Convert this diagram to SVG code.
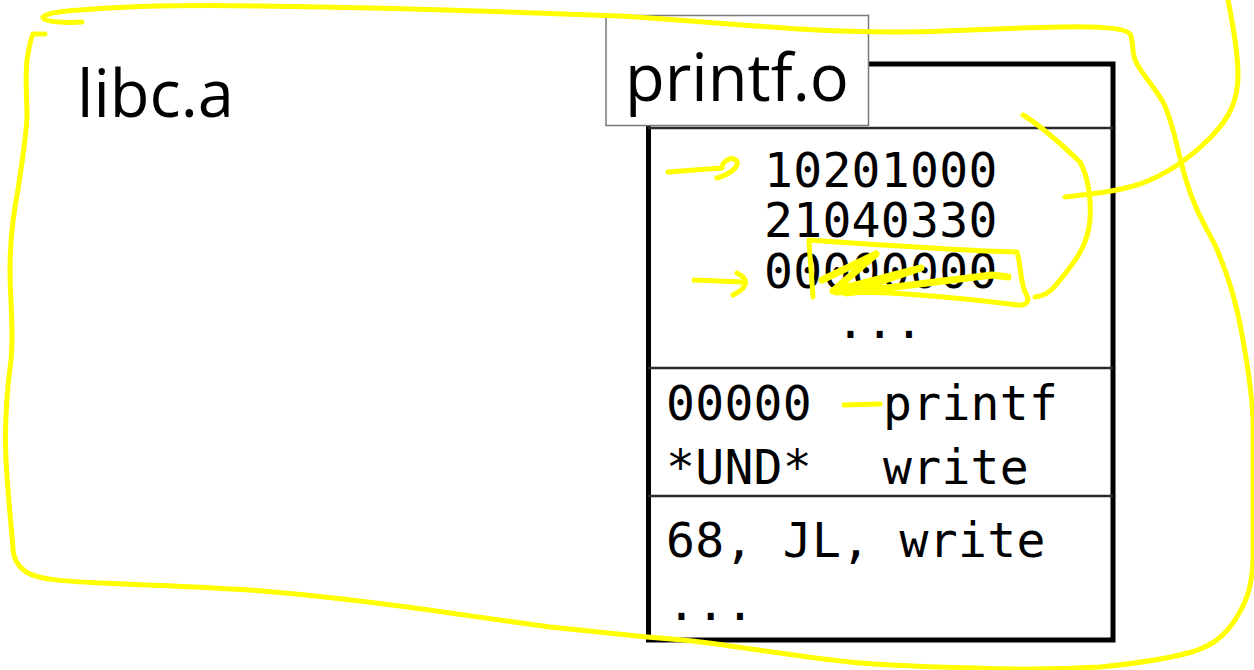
<svg xmlns="http://www.w3.org/2000/svg" width="1254" height="670" viewBox="0 0 1254 670">
  <style>
    .label { font-family: "Open Sans", "Noto Sans", "Liberation Sans", sans-serif; font-size: 65px; fill: #000; }
    .mono { font-family: "DejaVu Sans Mono", "Liberation Mono", monospace; font-size: 48px; letter-spacing: 0.3px; fill: #000; }
    .frame { fill: none; stroke: #000; stroke-width: 5; stroke-linejoin: miter; }
    .rule { stroke: #2a2a2a; stroke-width: 2.5; }
    .ink { fill: none; stroke: #ffff00; stroke-width: 5; stroke-linecap: round; stroke-linejoin: round; }
    .ink-thick { stroke-width: 7; }
  </style>

  <!-- archive title -->
  <g id="libc-archive">
    <text class="label" x="77" y="117">libc.a</text>
  </g>

  <!-- object file with its sections -->
  <g id="printf-object">
    <rect class="frame" x="648.5" y="64" width="464.5" height="576"/>
    <line class="rule" x1="648" y1="128" x2="1113" y2="128" stroke="#555"/>
    <line class="rule" x1="648" y1="368" x2="1113" y2="368"/>
    <line class="rule" x1="648" y1="496" x2="1113" y2="496"/>
    <rect x="606" y="15.5" width="262.5" height="110" fill="#fff" stroke="#7a7a7a" stroke-width="1.5"/>
    <text class="label" x="625" y="101">printf.o</text>

    <!-- code section -->
    <text class="mono" x="764" y="187">10201000</text>
    <text class="mono" x="764" y="237">21040330</text>
    <text class="mono" x="764" y="288">00000000</text>
    <text class="mono" x="836" y="338">...</text>

    <!-- symbol table -->
    <text class="mono" x="666" y="420">00000</text>
    <text class="mono" x="883" y="420">printf</text>
    <text class="mono" x="666" y="484">*UND*</text>
    <text class="mono" x="883" y="484">write</text>

    <!-- relocations -->
    <text class="mono" x="666" y="557">68, JL, write</text>
    <text class="mono" x="667" y="620">...</text>
  </g>

  <!-- highlighter annotations -->
  <g id="ink">
    <!-- outline around the whole archive -->
    <path class="ink" d="M82,22 C65,23 45,22 43,18 C42,14 60,11 80,10 C130,6 200,5 260,6 C400,8 520,12 620,16 C720,22 800,32 892,32 C950,32 1000,28 1060,27 C1100,26 1125,28 1130,34 C1134,40 1131,52 1136,62 C1143,76 1157,90 1164,104 C1174,125 1177,150 1186,180 C1195,210 1205,225 1215,245 C1228,275 1236,300 1243,340 C1248,370 1252,390 1253,420 L1253,560 C1252,590 1245,605 1233,623 C1222,638 1212,645 1195,651 C1170,659 1130,664 1100,667 C1050,670 1000,669 975,668 C930,667 890,666 850,662 C790,656 740,646 683,640 L647,637 C610,633 580,630 550,627 C500,620 470,616 450,613 C380,603 300,594 250,590 C200,587 150,585 100,583 C60,581 40,579 30,574 C18,568 14,560 13,550 C12,530 8,500 6,460 C4,420 7,390 11,360 C14,330 10,300 10,270 C10,240 14,210 18,190 C22,160 26,140 27,117 C27,100 25,80 27,60 C29,48 31,38 33,34 L45,34"/>

    <!-- stroke leaving through the top edge -->
    <path class="ink" d="M1228,0 C1232,20 1238,50 1238,75 C1238,100 1230,118 1210,138 C1190,158 1165,175 1140,184 C1115,192 1090,194 1065,197"/>

    <!-- curve beside the code section -->
    <path class="ink" d="M1023,115 C1040,125 1060,143 1080,162 C1090,180 1091,205 1090,220 C1088,245 1075,262 1060,280 C1052,290 1048,295 1035,297"/>

    <!-- arrows pointing at code words -->
    <path class="ink" d="M668,172 L722,168 C722,162 730,156 736,160 C741,165 731,174 717,178"/>
    <path class="ink" d="M694,280 L742,282 M737,273 Q756,283 733,295"/>

    <!-- crossed-out word -->
    <path class="ink" d="M813,297 C812,280 810,260 809,240 C870,244 950,250 1017,252 C1022,270 1020,285 1027,296 C1030,302 1025,306 1018,305 C960,298 880,290 836,293"/>
    <path class="ink ink-thick" d="M822,280 L876,254 L833,291 L921,268 L846,293 L992,275 L1008,277"/>

    <!-- mark on the defined symbol -->
    <path class="ink" d="M844,405 L880,404" stroke-width="8"/>
  </g>
</svg>
